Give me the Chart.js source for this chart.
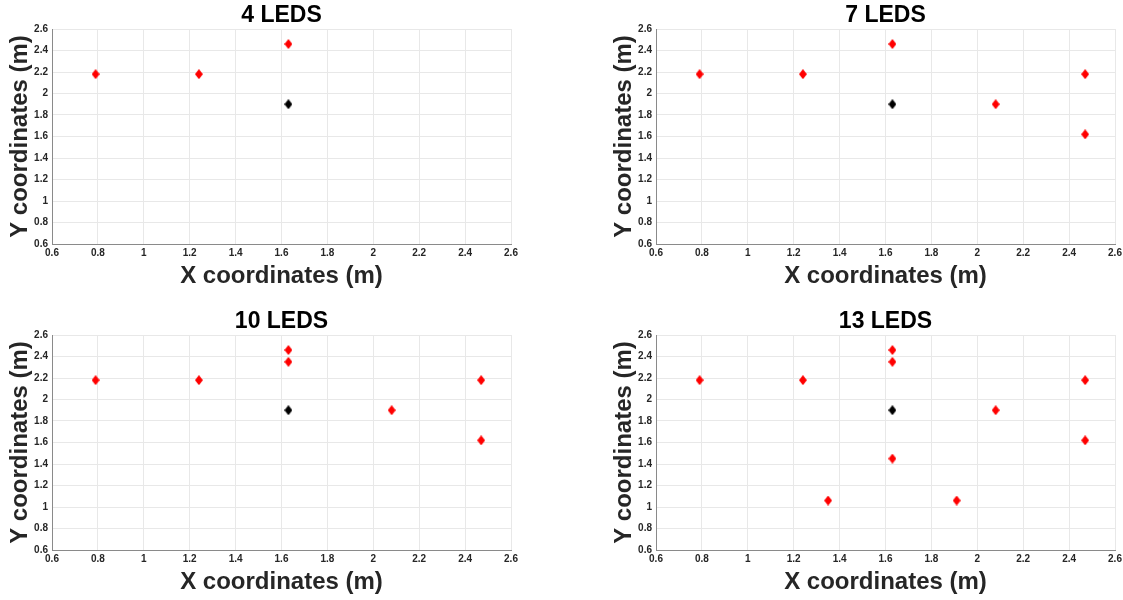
<!DOCTYPE html>
<html>
<head>
<meta charset="utf-8">
<script src="https://cdn.jsdelivr.net/npm/chart.js@4/dist/chart.umd.min.js"></script>
<style>
  html, body { margin: 0; padding: 0; background: #fff; }
  #wrap { position: relative; width: 1123px; height: 600px; overflow: hidden; }
  #wrap canvas { position: absolute; }
</style>
</head>
<body>
<div id="wrap">
  <canvas id="c4" width="519" height="300" style="left:0;top:0"></canvas>
  <canvas id="c7" width="519" height="300" style="left:604px;top:0"></canvas>
  <canvas id="c10" width="519" height="300" style="left:0;top:306px"></canvas>
  <canvas id="c13" width="519" height="300" style="left:604px;top:306px"></canvas>
</div>
<script>
// Ejes y etiquetas
const xTickLabels = ['0.6', '0.8', '1', '1.2', '1.4', '1.6', '1.8', '2', '2.2', '2.4', '2.6'];
const yTickLabels = ['0.6', '0.8', '1', '1.2', '1.4', '1.6', '1.8', '2', '2.2', '2.4', '2.6'];
const panelTitles = ['4 LEDS', '7 LEDS', '10 LEDS', '13 LEDS'];

// Posiciones de los LEDs (rojo) por configuración
const ledX4 = [0.79, 1.24, 1.63];
const ledY4 = [2.18, 2.18, 2.46];
const ledX7 = [0.79, 1.24, 1.63, 2.08, 2.47, 2.47];
const ledY7 = [2.18, 2.18, 2.46, 1.90, 2.18, 1.62];
const ledX10 = [0.79, 1.24, 1.63, 1.63, 2.08, 2.47, 2.47];
const ledY10 = [2.18, 2.18, 2.46, 2.35, 1.90, 2.18, 1.62];
const ledX13 = [0.79, 1.24, 1.63, 1.63, 2.08, 2.47, 2.47, 1.63, 1.35, 1.91];
const ledY13 = [2.18, 2.18, 2.46, 2.35, 1.90, 2.18, 1.62, 1.45, 1.06, 1.06];

// Punto de referencia (negro)
const refX = [1.63];
const refY = [1.90];

const FONT = "'Liberation Sans', Arial, sans-serif";

// Marcador tipo diamante (más alto que ancho, como en MATLAB)
const makeDiamond = (color) => {
  const c = document.createElement('canvas');
  c.width = 8;
  c.height = 10;
  const g = c.getContext('2d');
  g.fillStyle = color;
  g.beginPath();
  g.moveTo(4, 0);
  g.lineTo(8, 5);
  g.lineTo(4, 10);
  g.lineTo(0, 5);
  g.closePath();
  g.fill();
  return c;
};
const redDiamond = makeDiamond('#ff0000');
const blackDiamond = makeDiamond('#000000');

const toPoints = (xs, ys) => xs.map((x, i) => ({ x: x, y: ys[i] }));

// Título centrado sobre el área del gráfico
const panelTitle = {
  id: 'panelTitle',
  afterDraw(chart, args, opts) {
    const { ctx, chartArea } = chart;
    ctx.save();
    ctx.font = 'bold 23px ' + FONT;
    ctx.fillStyle = '#000';
    ctx.textAlign = 'center';
    ctx.textBaseline = 'middle';
    ctx.fillText(opts.text, (chartArea.left + chartArea.right) / 2, 16);
    ctx.restore();
  }
};

const axisConfig = (labels, titleText, horizontal) => ({
  type: 'linear',
  min: 0.6,
  max: 2.6,
  ticks: {
    stepSize: 0.2,
    padding: horizontal ? 3 : 4,
    color: '#262626',
    font: { family: FONT, size: 10, weight: 'bold' },
    callback: (value, index) => labels[index]
  },
  grid: { color: '#e8e8e8', drawTicks: false },
  border: { color: '#8a8a8a', width: 1 },
  title: {
    display: true,
    text: titleText,
    color: '#262626',
    font: { family: FONT, size: 24, weight: 'bold' },
    padding: horizontal ? { top: 0, bottom: 9 } : { top: 6, bottom: 0 }
  },
  afterFit: (scale) => {
    if (horizontal) scale.height = 56;
    else scale.width = 52;
    scale.paddingLeft = 0;
    scale.paddingRight = 0;
    scale.paddingTop = 0;
    scale.paddingBottom = 0;
  }
});

const initPanel = (id, title, xs, ys) => {
  const ctx = document.getElementById(id).getContext('2d');
  return new Chart(ctx, {
    type: 'scatter',
    data: {
      datasets: [
        {
          data: toPoints(xs, ys),
          pointStyle: redDiamond,
          pointRadius: 5
        },
        {
          data: toPoints(refX, refY),
          pointStyle: blackDiamond,
          pointRadius: 5
        }
      ]
    },
    options: {
      responsive: false,
      animation: false,
      layout: { padding: { left: 0, top: 29, right: 8, bottom: 0 } },
      scales: {
        x: axisConfig(xTickLabels, 'X coordinates (m)', true),
        y: axisConfig(yTickLabels, 'Y coordinates (m)', false)
      },
      plugins: {
        legend: { display: false },
        tooltip: { enabled: false },
        panelTitle: { text: title }
      }
    },
    plugins: [panelTitle]
  });
};

initPanel('c4', panelTitles[0], ledX4, ledY4);
initPanel('c7', panelTitles[1], ledX7, ledY7);
initPanel('c10', panelTitles[2], ledX10, ledY10);
initPanel('c13', panelTitles[3], ledX13, ledY13);
</script>
</body>
</html>
